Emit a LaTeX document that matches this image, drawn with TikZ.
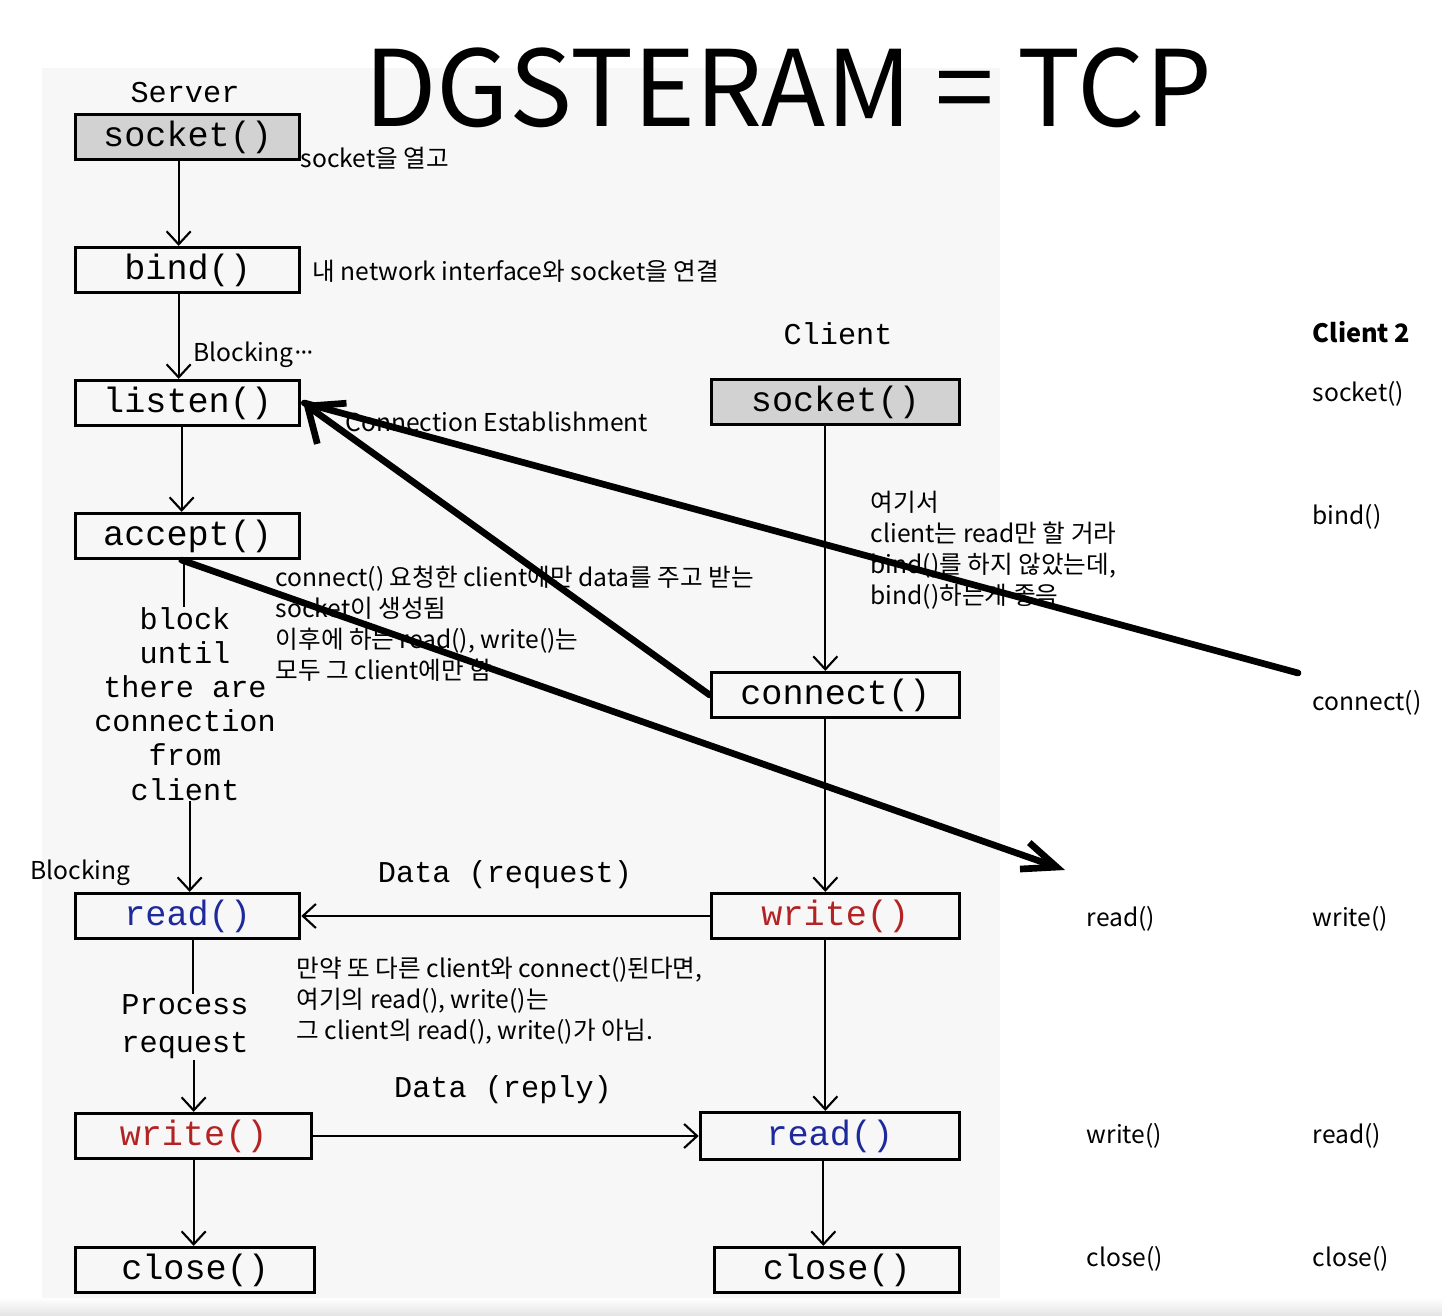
\documentclass[tikz,border=0pt]{standalone}
\usepackage{fontspec}
\setmainfont{Noto Sans CJK KR}
\newfontfamily\codefont{Liberation Mono}
\usepackage{tikz}
\usetikzlibrary{arrows.meta,positioning,calc}
\definecolor{shotbg}  {HTML}{F7F7F7}
\definecolor{boxgray} {HTML}{D2D2D2}
\definecolor{readblue}{HTML}{1E2A9C}
\definecolor{writered}{HTML}{B42323}

\begin{document}
\begin{tikzpicture}[x=0.01cm, y=-0.01cm,
  font=\fontsize{7}{8.8}\selectfont,
  func/.style={draw, line width=0.9pt, minimum height=0.45cm, inner sep=0pt, font=\codefont\fontsize{10}{12}\selectfont},
  sockfn/.style={func, fill=boxgray},
  mono/.style={font=\codefont\fontsize{8.6}{9.7}\selectfont, align=center, inner sep=0pt},
  memo/.style={anchor=west, align=left, inner sep=0pt},
  flow/.style={-{Straight Barb[length=1.3mm, width=2.4mm]}, line width=0.6pt},
  hand/.style={line width=1.9pt, line cap=round, line join=round}]
  \useasboundingbox (0,0) rectangle (1442,1316);
  % screenshot backdrop
  \fill[shotbg] (42,68) rectangle (1000,1300);
  \shade[top color=white, bottom color=gray!22] (0,1298) rectangle (1442,1316);
  \node[font=\fontsize{30}{34}\selectfont] (title) at (788,88) {DGSTERAM = TCP};
  % Server
  \node[mono] (server) at (185,93) {Server};
  \node[sockfn, minimum width=2.24cm, anchor=west] (ssock) at (74,137) {socket()};
  \node[func, minimum width=2.24cm, anchor=west] (sbind) at (74,270) {bind()};
  \node[func, minimum width=2.24cm, anchor=west] (slisten) at (74,403) {listen()};
  \node[func, minimum width=2.24cm, anchor=west] (saccept) at (74,536) {accept()};
  \node[mono] (sblock) at (185,704) {block\\until\\there are\\connection\\from\\client};
  \node[func, minimum width=2.24cm, anchor=west, text=readblue] (sread) at (74,916) {read()};
  \node[mono, font=\codefont\fontsize{8.6}{10.8}\selectfont] (sproc) at (185,1027) {Process\\request};
  \node[func, minimum width=2.36cm, anchor=west, text=writered] (swrite) at (74,1136) {write()};
  \node[func, minimum width=2.39cm, anchor=west] (sclose) at (74,1270) {close()};
  \draw[flow] ([xshift=-0.09cm]ssock.south) -- ([xshift=-0.09cm]sbind.north);
  \draw[flow] ([xshift=-0.09cm]sbind.south) -- ([xshift=-0.09cm]slisten.north);
  \draw[flow] ([xshift=-0.06cm]slisten.south) -- ([xshift=-0.06cm]saccept.north);
  \draw[line width=0.6pt] ([xshift=-0.04cm]saccept.south) -- ([xshift=-0.04cm]saccept.south |- sblock.north);
  \draw[flow] ([xshift=0.02cm]sread.north |- sblock.south) -- ([xshift=0.02cm]sread.north);
  \draw[line width=0.6pt] ([xshift=0.05cm]sread.south) -- ([xshift=0.05cm]sread.south |- sproc.north);
  \draw[flow] (swrite.north |- sproc.south) -- (swrite.north);
  \draw[flow] (swrite.south) -- (swrite.south |- sclose.north);
  % Client
  \node[mono] (client) at (838,334) {Client};
  \node[sockfn, minimum width=2.48cm, anchor=east] (csock) at (961,402) {socket()};
  \node[func, minimum width=2.48cm, anchor=east] (cconn) at (961,695) {connect()};
  \node[func, minimum width=2.48cm, anchor=east, text=writered] (cwrite) at (961,916) {write()};
  \node[func, minimum width=2.59cm, minimum height=0.47cm, anchor=east, text=readblue] (cread) at (961,1136) {read()};
  \node[func, minimum width=2.45cm, anchor=east] (cclose) at (961,1270) {close()};
  \draw[flow] ([xshift=-0.1cm]csock.south) -- ([xshift=-0.1cm]cconn.north);
  \draw[flow] ([xshift=-0.1cm]cconn.south) -- ([xshift=-0.1cm]cwrite.north);
  \draw[flow] ([xshift=-0.1cm]cwrite.south) -- ([xshift=-0.1cm]cwrite.south |- cread.north);
  \draw[flow] ([xshift=-0.065cm]cread.south) -- ([xshift=-0.065cm]cread.south |- cclose.north);
  % data exchange
  \draw[flow] (cwrite.west) -- (sread.east);
  \draw[flow] (swrite.east) -- (cread.west);
  \node[mono] (dreq) at (505,875) {Data (request)};
  \node[mono] (drep) at (503,1090) {Data (reply)};
  % Client 2 and its peer
  \node[memo, font=\bfseries\fontsize{7.2}{8.8}\selectfont] (c2name) at (1312,332) {Client 2};
  \node[memo] (c2sock) at (1312,394) {socket()};
  \node[memo] (c2bind) at (1312,517) {bind()};
  \node[memo] (c2conn) at (1312,703) {connect()};
  \node[memo] (c2write) at (1312,919) {write()};
  \node[memo] (c2read) at (1312,1136) {read()};
  \node[memo] (c2close) at (1312,1259) {close()};
  \node[memo] (s2read) at (1086,919) {read()};
  \node[memo] (s2write) at (1086,1136) {write()};
  \node[memo] (s2close) at (1086,1259) {close()};
  % notes
  \node[memo] (nsock) at (300,158) {socket을 열고};
  \node[memo] (nbind) at (312,271) {내 network interface와 socket을 연결};
  \node[memo] (nblk1) at (193,355) {Blocking\kern-0.1em·\kern-0.3em·\kern-0.3em·};
  \node[memo] (nconn) at (345,422) {Connection Establishment};
  \node[memo] (nacc) at (275,624) {connect() 요청한 client에만 data를 주고 받는\\socket이 생성됨\\이후에 하는 read(), write()는\\모두 그 client에만 함};
  \node[memo] (ncli) at (870,550) {여기서\\client는 read만 할 거라\\bind()를 하지 않았는데,\\bind()하는게 좋음};
  \node[memo] (nblk2) at (30,873) {Blocking};
  \node[memo] (nrw) at (296,1001) {만약 또 다른 client와 connect()된다면,\\여기의 read(), write()는\\그 client의 read(), write()가 아님.};
  % hand-drawn strokes
  \coordinate (c2from) at ($(c2conn.west)+(-14,-30)$);
  \coordinate (c2to) at ($(s2read.west)+(-21,-49)$);
  \draw[hand] (c2from) -- ([xshift=0.03cm]slisten.east);
  \draw[hand, -{Straight Barb[length=3mm, width=5mm]}] (cconn.west) -- ([xshift=0.02cm]slisten.east);
  \draw[hand, -{Straight Barb[length=3.4mm, width=2.8mm]}] ([xshift=-0.06cm]saccept.south) -- (c2to);
\end{tikzpicture}
\end{document}
